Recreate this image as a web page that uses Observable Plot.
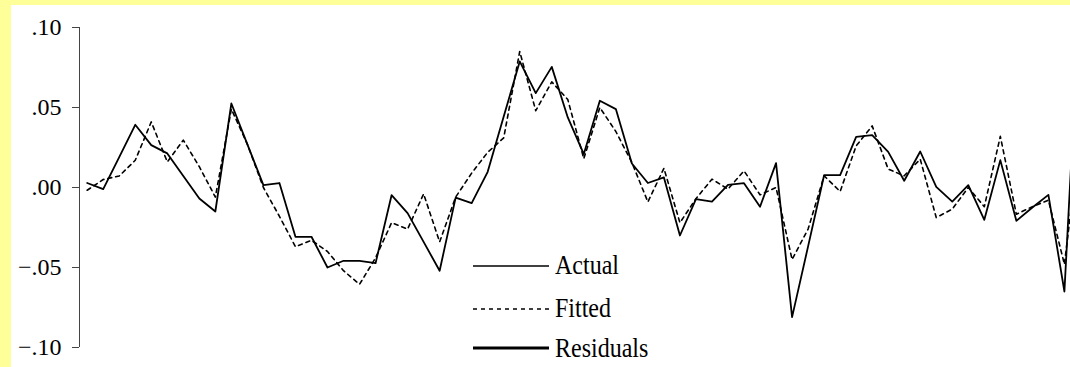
<!DOCTYPE html>
<html><head><meta charset="utf-8">
<script src="https://cdn.jsdelivr.net/npm/d3@7"></script>
<script src="https://cdn.jsdelivr.net/npm/@observablehq/plot@0.6"></script>
<style>
html,body{margin:0;padding:0;background:#ffff99;overflow:hidden;width:1070px;height:367px;}
#panel{position:absolute;left:11px;top:5px;width:1059px;height:362px;background:#fff;}
#chart{position:absolute;left:0;top:0;}
#legend{position:absolute;left:473px;top:0;font-family:"Liberation Serif","Times New Roman",serif;font-size:24px;color:#000;}
.row{position:absolute;left:0;height:42px;display:flex;align-items:center;white-space:nowrap;}
.row svg{margin-right:6px;display:block;}
.row span{display:inline-block;transform:scaleY(1.15);transform-origin:50% 60%;}
</style></head><body>
<div id="panel"></div><div id="chart"></div><div id="legend"></div>
<script>
const actual = [0.0028,-0.001,0.019,0.0392,0.0265,0.0213,0.0072,-0.0069,-0.015,0.0525,
  0.027,0.0015,0.0028,-0.0308,-0.0308,-0.050,-0.0458,-0.0458,-0.0473,-0.0048,
  -0.016,-0.034,-0.052,-0.0063,-0.0098,0.0098,0.0443,0.0788,0.059,0.0754,
  0.0438,0.0209,0.0542,0.049,0.015,0.0028,0.0063,-0.030,-0.0073,-0.0088,
  0.0017,0.0027,-0.012,0.0152,-0.081,-0.0368,0.0077,0.0077,0.0317,0.0327,
  0.0223,0.0042,0.0225,0.0004,-0.0088,0.0015,-0.0202,0.0171,-0.0208,-0.0125,
  -0.0046,-0.065,0.125];
const fitted = [-0.0017,0.005,0.0072,0.017,0.041,0.016,0.0296,0.013,-0.006,0.049,
  0.027,0.000,-0.018,-0.037,-0.033,-0.040,-0.052,-0.0605,-0.044,-0.022,
  -0.026,-0.004,-0.034,-0.006,0.009,0.022,0.031,0.085,0.048,0.066,
  0.055,0.018,0.050,0.035,0.0156,-0.009,0.012,-0.022,-0.007,0.0052,
  -0.001,0.0104,-0.0046,0.000,-0.045,-0.026,0.0073,-0.0025,0.026,0.0385,
  0.0115,0.0073,0.0177,-0.0188,-0.0135,0.000,-0.012,0.032,-0.0167,-0.012,
  -0.0079,-0.048,0.035];
const yTicks = [0.10, 0.05, 0.00, -0.05, -0.10];
const seriesNames = ["Actual", "Fitted", "Residuals"];

const periods = d3.range(actual.length);
const data = periods.map(i => ({i, actual: actual[i], fitted: fitted[i]}));
const fmt = d => (d < 0 ? "\u2212" : "") + Math.abs(d).toFixed(2).replace(/^0/, "");
const xDomain = [-0.48, 61.38];

const chart = Plot.plot({
  width: 1070, height: 367,
  marginLeft: 79, marginRight: 0, marginTop: 27, marginBottom: 20,
  style: {background: "transparent", fontFamily: "'Liberation Serif', 'Times New Roman', serif", fontSize: "24px", color: "#000", overflow: "hidden"},
  x: {domain: xDomain, axis: null},
  y: {domain: [-0.1, 0.1], axis: null},
  marks: [
    Plot.axisY({ticks: yTicks, tickFormat: fmt, tickSize: 7, tickPadding: 11, stroke: "#444", fill: "#000", fontSize: 24, label: null}),
    Plot.ruleX([xDomain[0]], {y1: -0.1, y2: 0.1, stroke: "#444"}),
    Plot.lineY(data, {x: "i", y: "fitted", stroke: "#000", strokeWidth: 1.6, strokeDasharray: "4,4", clip: true}),
    Plot.lineY(data, {x: "i", y: "actual", stroke: "#000", strokeWidth: 1.8, clip: true})
  ]
});
document.getElementById("chart").appendChild(chart);

const styles = [
  {w: 1.6, dash: null},
  {w: 1.6, dash: "4,4"},
  {w: 3.2, dash: null}
];
const centers = [265.5, 308.5, 348];
const legend = d3.select("#legend");
seriesNames.forEach((name, k) => {
  const row = legend.append("div").attr("class", "row").style("top", (centers[k] - 21) + "px");
  const sw = row.append("svg").attr("width", 76).attr("height", 8);
  sw.append("line").attr("x1", 0).attr("x2", 76).attr("y1", 4).attr("y2", 4)
    .attr("stroke", "#000").attr("stroke-width", styles[k].w)
    .attr("stroke-dasharray", styles[k].dash);
  row.append("span").text(name);
});
</script>
</body></html>
